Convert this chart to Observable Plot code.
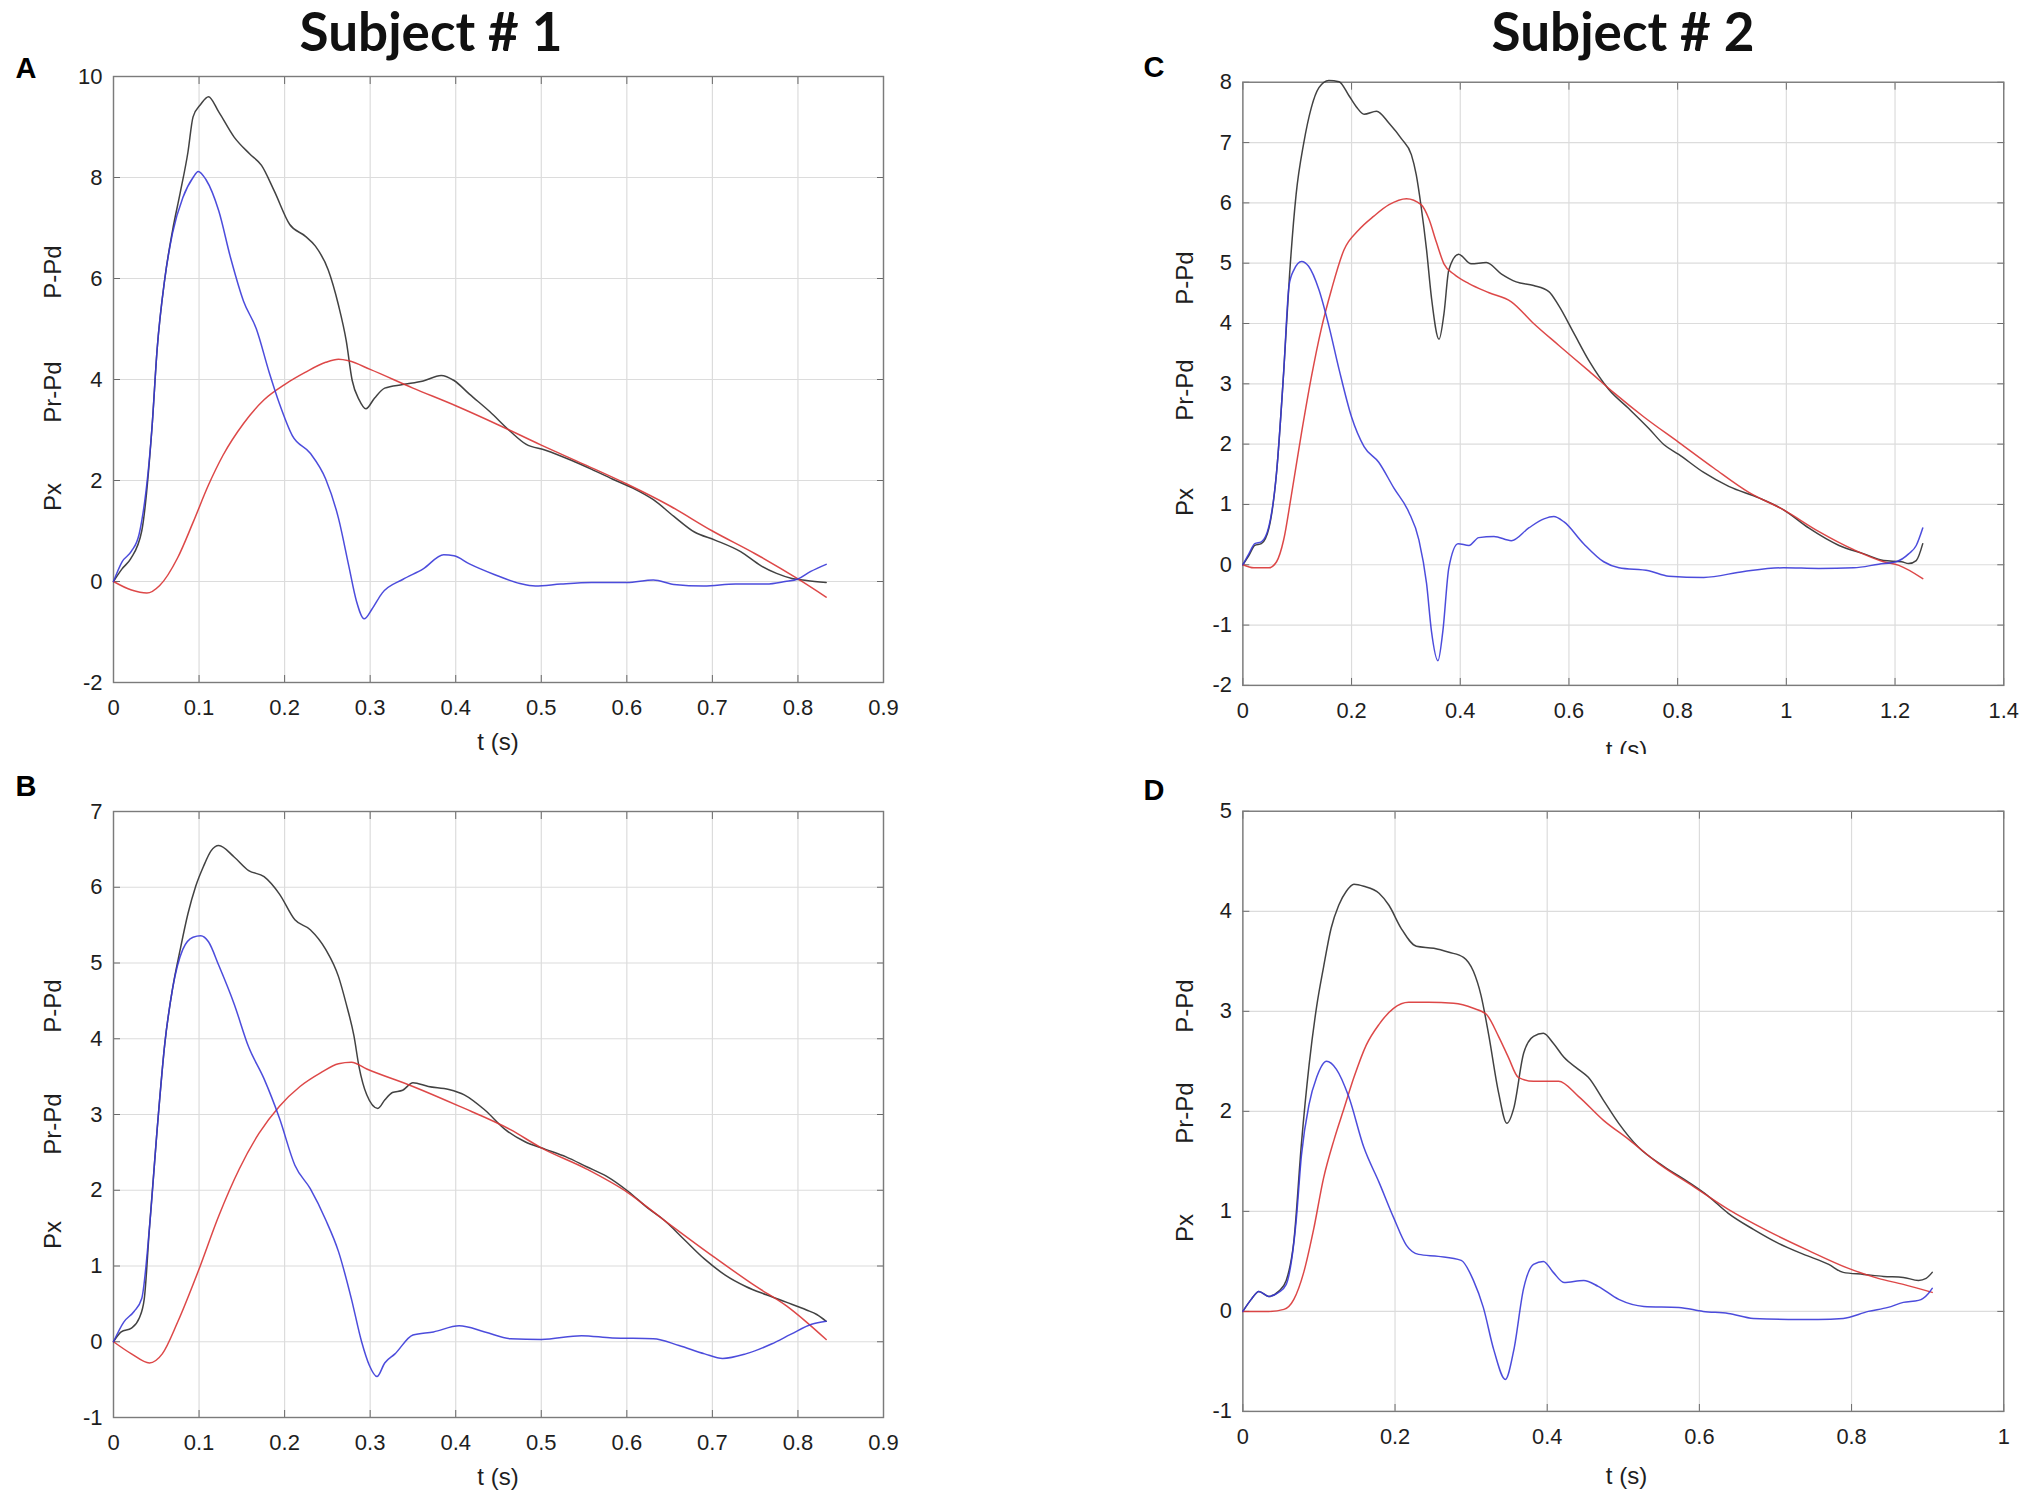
<!DOCTYPE html>
<html><head><meta charset="utf-8">
<script src="https://cdn.jsdelivr.net/npm/d3@7"></script>
<script src="https://cdn.jsdelivr.net/npm/@observablehq/plot@0.6"></script>
<style>
html,body{margin:0;padding:0;background:#fff;}
body{width:2033px;height:1496px;position:relative;overflow:hidden;font-family:"Liberation Sans",Arial,sans-serif;color:#1e1e1e;}
.abs{position:absolute;}
.title{font-family:Lato,"Open Sans",sans-serif;font-weight:700;font-size:53px;color:#111;transform:translate(-50%,-50%);white-space:nowrap;}
.letter{font-family:"Liberation Sans",Arial,sans-serif;font-weight:700;font-size:29px;color:#000;transform:translate(-50%,-50%);}
.ylab{font-size:24px;color:#1e1e1e;transform:translate(-50%,-50%) rotate(-90deg);white-space:nowrap;}
.xlab{font-size:24px;color:#1e1e1e;transform:translate(-50%,-50%);white-space:nowrap;}
</style></head>
<body>
<script>
// ---------------- data (t in s, pressure values) ----------------
const titles = ["Subject # 1", "Subject # 2"];
const panelLetters = ["A", "B", "C", "D"];
const seriesNames = ["P-Pd", "Pr-Pd", "Px"];
const xLabel = "t (s)";

const xTicksAB = [0, 0.1, 0.2, 0.3, 0.4, 0.5, 0.6, 0.7, 0.8, 0.9];
const xTicksC = [0, 0.2, 0.4, 0.6, 0.8, 1, 1.2, 1.4];
const xTicksD = [0, 0.2, 0.4, 0.6, 0.8, 1];
const yTicksA = [-2, 0, 2, 4, 6, 8, 10];
const yTicksB = [-1, 0, 1, 2, 3, 4, 5, 6, 7];
const yTicksC = [-2, -1, 0, 1, 2, 3, 4, 5, 6, 7, 8];
const yTicksD = [-1, 0, 1, 2, 3, 4, 5];

// Panel A (Subject 1)
const aBlack = [[0,0],[0.01,0.25],[0.02,0.45],[0.033,1.0],[0.045,3.05],[0.051,4.6],[0.06,6.0],[0.069,6.95],[0.078,7.7],[0.087,8.5],[0.093,9.2],[0.102,9.45],[0.111,9.6],[0.123,9.3],[0.141,8.8],[0.159,8.47],[0.173,8.24],[0.188,7.73],[0.206,7.07],[0.224,6.84],[0.236,6.64],[0.251,6.17],[0.263,5.47],[0.272,4.77],[0.279,3.98],[0.287,3.6],[0.295,3.42],[0.305,3.63],[0.317,3.83],[0.338,3.9],[0.362,3.97],[0.383,4.08],[0.398,3.98],[0.416,3.71],[0.44,3.36],[0.464,2.97],[0.482,2.72],[0.505,2.6],[0.535,2.4],[0.559,2.22],[0.583,2.03],[0.607,1.85],[0.631,1.62],[0.655,1.29],[0.679,0.98],[0.703,0.82],[0.733,0.59],[0.757,0.31],[0.775,0.16],[0.793,0.06],[0.81,0.02],[0.833,-0.02]];
const aBlue = [[0,0],[0.01,0.39],[0.021,0.6],[0.03,0.94],[0.045,3.05],[0.051,4.6],[0.06,6.0],[0.069,6.9],[0.081,7.6],[0.093,8.0],[0.099,8.12],[0.108,7.96],[0.123,7.34],[0.137,6.4],[0.152,5.55],[0.167,5.0],[0.182,4.14],[0.194,3.52],[0.209,2.89],[0.23,2.54],[0.248,2.03],[0.263,1.25],[0.275,0.31],[0.284,-0.39],[0.293,-0.74],[0.302,-0.55],[0.314,-0.23],[0.338,0.04],[0.362,0.25],[0.386,0.53],[0.398,0.51],[0.416,0.35],[0.445,0.14],[0.475,-0.04],[0.493,-0.09],[0.523,-0.05],[0.559,-0.02],[0.6,-0.02],[0.631,0.03],[0.655,-0.06],[0.69,-0.09],[0.727,-0.05],[0.763,-0.05],[0.785,0],[0.8,0.05],[0.815,0.2],[0.833,0.34]];
const aRed = [[0,0],[0.021,-0.17],[0.039,-0.23],[0.054,-0.08],[0.075,0.47],[0.093,1.17],[0.111,1.91],[0.128,2.5],[0.152,3.13],[0.176,3.6],[0.2,3.9],[0.224,4.14],[0.248,4.34],[0.263,4.4],[0.275,4.37],[0.3,4.2],[0.35,3.83],[0.4,3.48],[0.45,3.1],[0.5,2.7],[0.55,2.32],[0.6,1.93],[0.65,1.5],[0.7,1.0],[0.75,0.55],[0.8,0.05],[0.833,-0.31]];

// Panel B (Subject 1)
const bBlack = [[0,0],[0.009,0.13],[0.021,0.18],[0.03,0.31],[0.036,0.57],[0.042,1.5],[0.051,2.8],[0.06,3.94],[0.069,4.66],[0.078,5.18],[0.087,5.65],[0.096,6.01],[0.105,6.27],[0.114,6.48],[0.123,6.55],[0.141,6.4],[0.158,6.22],[0.176,6.14],[0.194,5.91],[0.212,5.57],[0.23,5.44],[0.248,5.18],[0.263,4.82],[0.272,4.46],[0.281,4.04],[0.287,3.63],[0.296,3.26],[0.309,3.08],[0.317,3.19],[0.326,3.29],[0.338,3.32],[0.35,3.42],[0.368,3.37],[0.392,3.33],[0.41,3.26],[0.434,3.06],[0.458,2.8],[0.481,2.64],[0.505,2.54],[0.529,2.44],[0.553,2.31],[0.577,2.18],[0.601,1.99],[0.625,1.76],[0.643,1.61],[0.667,1.35],[0.691,1.09],[0.715,0.88],[0.739,0.73],[0.763,0.62],[0.787,0.52],[0.81,0.42],[0.822,0.36],[0.833,0.27]];
const bBlue = [[0,0],[0.012,0.26],[0.024,0.4],[0.033,0.57],[0.042,1.5],[0.051,2.8],[0.06,3.94],[0.069,4.66],[0.081,5.18],[0.093,5.34],[0.102,5.36],[0.111,5.28],[0.123,4.97],[0.141,4.46],[0.158,3.89],[0.176,3.47],[0.194,2.95],[0.212,2.33],[0.23,2.02],[0.248,1.61],[0.263,1.19],[0.278,0.57],[0.29,0],[0.299,-0.31],[0.308,-0.46],[0.317,-0.28],[0.329,-0.16],[0.35,0.09],[0.374,0.13],[0.404,0.21],[0.434,0.13],[0.464,0.04],[0.5,0.03],[0.547,0.08],[0.583,0.05],[0.631,0.04],[0.661,-0.05],[0.691,-0.16],[0.712,-0.22],[0.739,-0.16],[0.769,-0.03],[0.792,0.1],[0.816,0.23],[0.833,0.27]];
const bRed = [[0,0],[0.021,-0.16],[0.042,-0.28],[0.057,-0.16],[0.075,0.26],[0.099,0.93],[0.123,1.66],[0.147,2.28],[0.17,2.75],[0.194,3.11],[0.218,3.37],[0.242,3.55],[0.263,3.67],[0.278,3.69],[0.296,3.6],[0.35,3.37],[0.404,3.11],[0.464,2.8],[0.5,2.56],[0.553,2.28],[0.601,1.97],[0.643,1.61],[0.703,1.11],[0.751,0.73],[0.787,0.47],[0.81,0.26],[0.833,0.03]];

// Panel C (Subject 2)
const cBlack = [[0,0],[0.011,0.15],[0.022,0.32],[0.034,0.35],[0.048,0.61],[0.062,1.53],[0.075,3.18],[0.086,4.82],[0.098,6.14],[0.112,6.99],[0.126,7.58],[0.14,7.91],[0.158,8.03],[0.177,8.01],[0.195,7.78],[0.209,7.59],[0.223,7.47],[0.246,7.52],[0.269,7.32],[0.292,7.06],[0.31,6.8],[0.319,6.47],[0.328,5.94],[0.338,5.22],[0.347,4.43],[0.361,3.74],[0.37,4.16],[0.379,4.89],[0.397,5.15],[0.42,4.99],[0.448,5.01],[0.476,4.82],[0.503,4.69],[0.535,4.63],[0.563,4.53],[0.581,4.3],[0.609,3.84],[0.637,3.38],[0.673,2.91],[0.71,2.59],[0.747,2.26],[0.775,1.99],[0.802,1.83],[0.848,1.53],[0.894,1.3],[0.949,1.11],[0.995,0.91],[1.041,0.61],[1.097,0.32],[1.143,0.18],[1.179,0.07],[1.212,0.05],[1.225,0.02],[1.239,0.07],[1.251,0.35]];
const cBlue = [[0,0],[0.011,0.18],[0.022,0.35],[0.034,0.38],[0.048,0.64],[0.062,1.53],[0.075,3.18],[0.085,4.63],[0.094,4.89],[0.108,5.03],[0.121,4.95],[0.14,4.56],[0.158,3.97],[0.177,3.24],[0.2,2.45],[0.223,1.96],[0.25,1.7],[0.278,1.27],[0.305,0.88],[0.324,0.41],[0.338,-0.31],[0.347,-1.1],[0.359,-1.59],[0.368,-1.1],[0.379,-0.05],[0.396,0.35],[0.416,0.32],[0.434,0.45],[0.462,0.47],[0.494,0.4],[0.526,0.61],[0.554,0.76],[0.572,0.8],[0.591,0.71],[0.627,0.35],[0.664,0.05],[0.692,-0.05],[0.747,-0.1],[0.784,-0.19],[0.848,-0.21],[0.922,-0.11],[0.995,-0.05],[1.06,-0.06],[1.124,-0.05],[1.17,0.01],[1.202,0.05],[1.225,0.18],[1.239,0.32],[1.251,0.61]];
const cRed = [[0,0],[0.02,-0.05],[0.048,-0.05],[0.062,0.05],[0.075,0.41],[0.089,1.14],[0.108,2.19],[0.126,3.11],[0.144,3.9],[0.163,4.56],[0.186,5.22],[0.213,5.55],[0.241,5.78],[0.269,5.97],[0.301,6.07],[0.328,5.97],[0.342,5.74],[0.356,5.35],[0.37,4.99],[0.388,4.82],[0.416,4.66],[0.453,4.51],[0.494,4.36],[0.535,4.0],[0.581,3.64],[0.637,3.21],[0.683,2.85],[0.738,2.45],[0.802,2.03],[0.867,1.6],[0.931,1.2],[0.995,0.91],[1.06,0.55],[1.124,0.25],[1.179,0.05],[1.207,-0.01],[1.251,-0.23]];

// Panel D (Subject 2)
const dBlack = [[0,0],[0.011,0.12],[0.021,0.2],[0.034,0.15],[0.047,0.2],[0.057,0.31],[0.067,0.7],[0.077,1.68],[0.087,2.46],[0.097,3.05],[0.106,3.44],[0.116,3.83],[0.126,4.06],[0.136,4.2],[0.146,4.27],[0.159,4.25],[0.179,4.18],[0.192,4.06],[0.208,3.83],[0.228,3.65],[0.251,3.63],[0.271,3.59],[0.29,3.54],[0.303,3.4],[0.313,3.16],[0.323,2.77],[0.336,2.19],[0.347,1.88],[0.356,2.03],[0.369,2.58],[0.382,2.75],[0.395,2.78],[0.408,2.68],[0.422,2.54],[0.441,2.42],[0.454,2.34],[0.474,2.11],[0.494,1.88],[0.52,1.64],[0.553,1.45],[0.586,1.29],[0.612,1.15],[0.638,0.98],[0.671,0.82],[0.704,0.68],[0.737,0.57],[0.77,0.47],[0.789,0.39],[0.816,0.37],[0.842,0.35],[0.868,0.34],[0.888,0.31],[0.898,0.33],[0.906,0.39]];
const dBlue = [[0,0],[0.011,0.12],[0.021,0.2],[0.034,0.15],[0.047,0.19],[0.057,0.27],[0.064,0.51],[0.07,0.9],[0.077,1.56],[0.087,2.07],[0.097,2.34],[0.11,2.5],[0.123,2.42],[0.139,2.15],[0.159,1.64],[0.179,1.29],[0.198,0.94],[0.215,0.66],[0.231,0.57],[0.257,0.55],[0.287,0.51],[0.303,0.31],[0.316,0.04],[0.33,-0.39],[0.345,-0.68],[0.356,-0.39],[0.369,0.23],[0.382,0.47],[0.395,0.5],[0.408,0.39],[0.422,0.29],[0.448,0.31],[0.467,0.25],[0.494,0.12],[0.527,0.05],[0.573,0.04],[0.605,0],[0.638,-0.02],[0.671,-0.07],[0.717,-0.08],[0.756,-0.08],[0.789,-0.07],[0.822,0],[0.848,0.04],[0.868,0.09],[0.888,0.11],[0.901,0.18],[0.906,0.23]];
const dRed = [[0,0],[0.034,0],[0.054,0.02],[0.067,0.12],[0.08,0.39],[0.093,0.82],[0.106,1.33],[0.12,1.72],[0.133,2.03],[0.146,2.34],[0.162,2.66],[0.179,2.87],[0.198,3.03],[0.218,3.09],[0.244,3.09],[0.277,3.08],[0.303,3.03],[0.32,2.97],[0.336,2.75],[0.349,2.54],[0.362,2.34],[0.382,2.3],[0.415,2.3],[0.441,2.15],[0.474,1.91],[0.507,1.72],[0.546,1.48],[0.592,1.25],[0.638,1.02],[0.691,0.8],[0.743,0.61],[0.796,0.43],[0.835,0.33],[0.868,0.27],[0.906,0.19]];

// ---------------- layout ----------------
const panels = [
  {letter: panelLetters[0], frame: [113, 883, 76, 682], xDomain: [0, 0.9], yDomain: [-2, 10], xTicks: xTicksAB, yTicks: yTicksA,
   black: aBlack, blue: aBlue, red: aRed, letterPos: [26, 68], ylabX: 53, ylabY: [272, 392, 497], clipBottom: null},
  {letter: panelLetters[1], frame: [113, 883, 811, 1417], xDomain: [0, 0.9], yDomain: [-1, 7], xTicks: xTicksAB, yTicks: yTicksB,
   black: bBlack, blue: bBlue, red: bRed, letterPos: [26, 786], ylabX: 53, ylabY: [1006, 1124, 1235], clipBottom: null},
  {letter: panelLetters[2], frame: [1243, 2010, 82, 690], xDomain: [0, 1.4], yDomain: [-2, 8], xTicks: xTicksC, yTicks: yTicksC,
   black: cBlack, blue: cBlue, red: cRed, letterPos: [1154, 67], ylabX: 1185, ylabY: [278, 390, 502], clipBottom: 754},
  {letter: panelLetters[3], frame: [1243, 2010, 811, 1416], xDomain: [0, 1], yDomain: [-1, 5], xTicks: xTicksD, yTicks: yTicksD,
   black: dBlack, blue: dBlue, red: dRed, letterPos: [1154, 790], ylabX: 1185, ylabY: [1006, 1113, 1228], clipBottom: null}
];

const fmt = d => String(+(+d).toFixed(2));
const body = document.body;

function addText(cls, text, x, y, parent = body) {
  const el = document.createElement("div");
  el.className = "abs " + cls;
  el.textContent = text;
  el.style.left = x + "px";
  el.style.top = y + "px";
  parent.appendChild(el);
  return el;
}

addText("title", titles[0], 431, 30);
addText("title", titles[1], 1623, 30);

for (const p of panels) {
  const [x0, x1, y0, y1] = p.frame;
  const mL = 80, mR = 30, mT = 30, mB = 50;
  const tick = 7;
  const chart = Plot.plot({
    width: x1 - x0 + mL + mR,
    height: y1 - y0 + mT + mB,
    marginLeft: mL, marginRight: mR, marginTop: mT, marginBottom: mB,
    style: {fontFamily: '"Liberation Sans", Arial, sans-serif', fontSize: "22px", color: "#1e1e1e", background: "none", overflow: "visible"},
    x: {domain: p.xDomain},
    y: {domain: p.yDomain},
    marks: [
      Plot.gridX({ticks: p.xTicks, stroke: "#dcdcdc", strokeOpacity: 1, strokeWidth: 1.2}),
      Plot.gridY({ticks: p.yTicks, stroke: "#dcdcdc", strokeOpacity: 1, strokeWidth: 1.2}),
      Plot.axisX({ticks: p.xTicks, anchor: "bottom", tickSize: 0, tickPadding: 17, tickFormat: fmt, label: null, fontSize: 22}),
      Plot.axisY({ticks: p.yTicks, anchor: "left", tickSize: 0, tickPadding: 11, tickFormat: fmt, label: null, fontSize: 22}),
      Plot.axisX({ticks: p.xTicks, anchor: "bottom", tickSize: tick, dy: -tick, tickFormat: () => "", fill: "none", label: null, stroke: "#6a6a6a"}),
      Plot.axisX({ticks: p.xTicks, anchor: "top", tickSize: tick, dy: tick, tickFormat: () => "", fill: "none", label: null, stroke: "#6a6a6a"}),
      Plot.axisY({ticks: p.yTicks, anchor: "left", tickSize: tick, dx: tick, tickFormat: () => "", fill: "none", label: null, stroke: "#6a6a6a"}),
      Plot.axisY({ticks: p.yTicks, anchor: "right", tickSize: tick, dx: -tick, tickFormat: () => "", fill: "none", label: null, stroke: "#6a6a6a"}),
      Plot.frame({stroke: "#7b7b7b", strokeWidth: 1.4}),
      Plot.line(p.black, {x: d => d[0], y: d => d[1], stroke: "#2e2e2e", strokeWidth: 1.5, strokeOpacity: 0.9, curve: "monotone-x"}),
      Plot.line(p.red, {x: d => d[0], y: d => d[1], stroke: "#d93434", strokeWidth: 1.5, strokeOpacity: 0.9, curve: "monotone-x"}),
      Plot.line(p.blue, {x: d => d[0], y: d => d[1], stroke: "#3838d8", strokeWidth: 1.5, strokeOpacity: 0.9, curve: "monotone-x"})
    ]
  });
  const wrap = document.createElement("div");
  wrap.className = "abs";
  wrap.style.left = (x0 - mL) + "px";
  wrap.style.top = (y0 - mT) + "px";
  wrap.appendChild(chart);
  body.appendChild(wrap);

  addText("letter", p.letter, p.letterPos[0], p.letterPos[1]);
  seriesNames.forEach((s, i) => addText("ylab", s, p.ylabX, p.ylabY[i]));

  const cx = (x0 + x1) / 2, ly = y1 + 60;
  if (p.clipBottom) {
    const clip = document.createElement("div");
    clip.className = "abs";
    clip.style.left = (cx - 80) + "px";
    clip.style.top = (ly - 40) + "px";
    clip.style.width = "160px";
    clip.style.height = (p.clipBottom - (ly - 40)) + "px";
    clip.style.overflow = "hidden";
    body.appendChild(clip);
    addText("xlab", xLabel, 80, 40, clip);
  } else {
    addText("xlab", xLabel, cx, ly);
  }
}
</script>
</body></html>
